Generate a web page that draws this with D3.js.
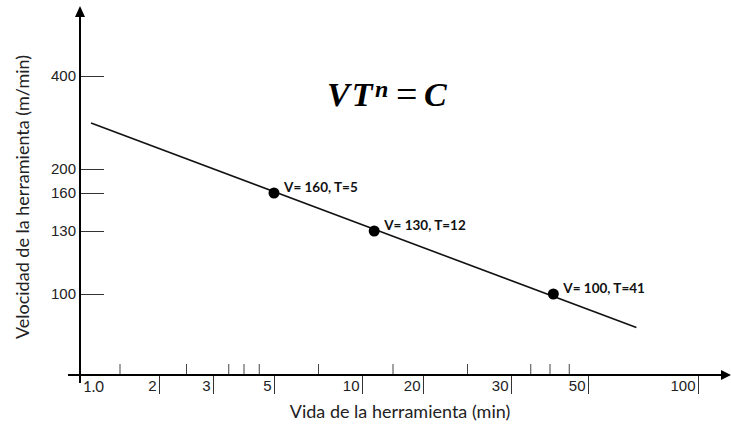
<!DOCTYPE html>
<html>
<head>
<meta charset="utf-8">
<script src="https://cdn.jsdelivr.net/npm/d3@7"></script>
<style>
	body { margin: 0; background: #fff; }
	svg { display: block; font-family: Lato, 'Open Sans', sans-serif; }
	.axis-label { font-size: 18px; fill: #222; }
	.tick text { font-size: 15px; fill: #222; }
	.point-label { font-size: 13.5px; font-weight: bold; fill: #111; }
	.equation { font-family: 'Liberation Serif', 'DejaVu Serif', serif; font-weight: bold; font-style: italic; fill: #000; }
</style>
</head>
<body>
<div id="chart"></div>
<script>
// Tool life (min) on the horizontal axis, the values that get a label.
var lifeTicks = [1, 2, 3, 5, 10, 20, 30, 50, 100];
var lifeTickLabels = ['1.0', '2', '3', '5', '10', '20', '30', '50', '100'];
// Unlabelled small marks above the horizontal axis.
var lifeMinorTicks = [1.5, 2.5, 3.5, 4, 4.5, 7.5, 15, 25, 35, 40, 45];
// Cutting speed (m/min) on the vertical axis.
var speedTicks = [100, 130, 160, 200, 400];

// Measured points.
var pointLife = [5, 12, 41];
var pointSpeed = [160, 130, 100];
var pointLabels = ['V= 160, T=5', 'V= 130, T=12', 'V= 100, T=41'];

// Ends of the Taylor line.
var lineLife = [1.14, 72];
var lineSpeed = [299, 84];

var width = 731;
var height = 425;

// The drawing is a sketch, so both axes are piecewise: each labelled value has its own place.
var x = d3.scaleLinear()
	.domain(lifeTicks)
	.range([80, 159, 213, 274, 362, 423, 511, 588, 698]);
var y = d3.scaleLinear()
	.domain(speedTicks)
	.range([294, 231, 193, 169, 76]);

var axisY = 375;
var axisX = 80;

var svg = d3.select('#chart')
	.append('svg')
	.attr('width', width)
	.attr('height', height);

// Small marks above the time axis.
svg.append('g')
	.attr('transform', 'translate(0,' + axisY + ')')
	.call(d3.axisBottom(x).tickValues(lifeMinorTicks).tickSize(-11).tickFormat(''))
	.call(function(g) {
		g.select('.domain').remove();
		g.selectAll('.tick line').attr('stroke', '#444');
	});

// Labelled dividers under the time axis, the label sits to the left of its divider.
svg.append('g')
	.attr('transform', 'translate(0,' + axisY + ')')
	.call(d3.axisBottom(x).tickValues(lifeTicks.slice(1)).tickSize(19)
		.tickFormat(function(d) { return lifeTickLabels[lifeTicks.indexOf(d)]; }))
	.call(function(g) {
		g.select('.domain').remove();
		g.selectAll('.tick line').attr('stroke', '#333');
		g.selectAll('.tick text')
			.attr('text-anchor', 'end')
			.attr('x', -3)
			.attr('y', 5)
			.attr('dy', '0.71em');
	});

svg.append('text')
	.attr('x', x(lifeTicks[0]) + 3)
	.attr('y', axisY + 17)
	.style('font-size', '15px')
	.style('fill', '#222')
	.text(lifeTickLabels[0]);

// Speed axis ticks point into the plot.
svg.append('g')
	.attr('transform', 'translate(' + axisX + ',0)')
	.call(d3.axisLeft(y).tickValues(speedTicks).tickSize(-24).tickPadding(4))
	.call(function(g) {
		g.select('.domain').remove();
		g.selectAll('.tick line').attr('stroke', '#333');
	});

// Axis lines with arrow heads.
svg.append('line')
	.attr('x1', 68).attr('y1', axisY)
	.attr('x2', width - 8).attr('y2', axisY)
	.attr('stroke', '#000').attr('stroke-width', 2);
svg.append('path')
	.attr('d', 'M' + width + ',' + axisY + 'l-10,-5v10z')
	.attr('fill', '#000');
svg.append('line')
	.attr('x1', axisX).attr('y1', 383)
	.attr('x2', axisX).attr('y2', 14)
	.attr('stroke', '#000').attr('stroke-width', 2);
svg.append('path')
	.attr('d', 'M' + axisX + ',6l-5,11h10z')
	.attr('fill', '#000');

// Taylor line.
var line = d3.line()
	.x(function(d) { return x(d[0]); })
	.y(function(d) { return y(d[1]); });
svg.append('path')
	.datum(d3.zip(lineLife, lineSpeed))
	.attr('d', line)
	.attr('fill', 'none')
	.attr('stroke', '#111')
	.attr('stroke-width', 1.6);

// Points and their labels.
var points = d3.zip(pointLife, pointSpeed, pointLabels);
svg.append('g')
	.selectAll('circle')
	.data(points)
	.enter()
	.append('circle')
	.attr('cx', function(d) { return x(d[0]); })
	.attr('cy', function(d) { return y(d[1]); })
	.attr('r', 5.5)
	.attr('fill', '#000');
svg.append('g')
	.selectAll('text')
	.data(points)
	.enter()
	.append('text')
	.attr('class', 'point-label')
	.attr('x', function(d) { return x(d[0]) + 10; })
	.attr('y', function(d) { return y(d[1]) - 1; })
	.text(function(d) { return d[2]; });

// Equation, each piece placed on its own so the spacing matches the math font.
var eq = svg.append('g').attr('class', 'equation');
eq.append('text').attr('x', 327).attr('y', 106).style('font-size', '34px')
	.style('letter-spacing', '2px').text('VT');
eq.append('text').attr('x', 375).attr('y', 97).style('font-size', '24px').text('n');
eq.append('text').attr('x', 396).attr('y', 107).style('font-size', '38px')
	.style('font-style', 'normal').style('font-weight', 'normal').text('=');
eq.append('text').attr('x', 424).attr('y', 106).style('font-size', '34px').text('C');

// Axis titles.
svg.append('text')
	.attr('class', 'axis-label')
	.attr('x', 400)
	.attr('y', 418)
	.attr('text-anchor', 'middle')
	.text('Vida de la herramienta (min)');
svg.append('text')
	.attr('class', 'axis-label')
	.attr('transform', 'translate(29,197) rotate(-90)')
	.attr('text-anchor', 'middle')
	.text('Velocidad de la herramienta (m/min)');
</script>
</body>
</html>
